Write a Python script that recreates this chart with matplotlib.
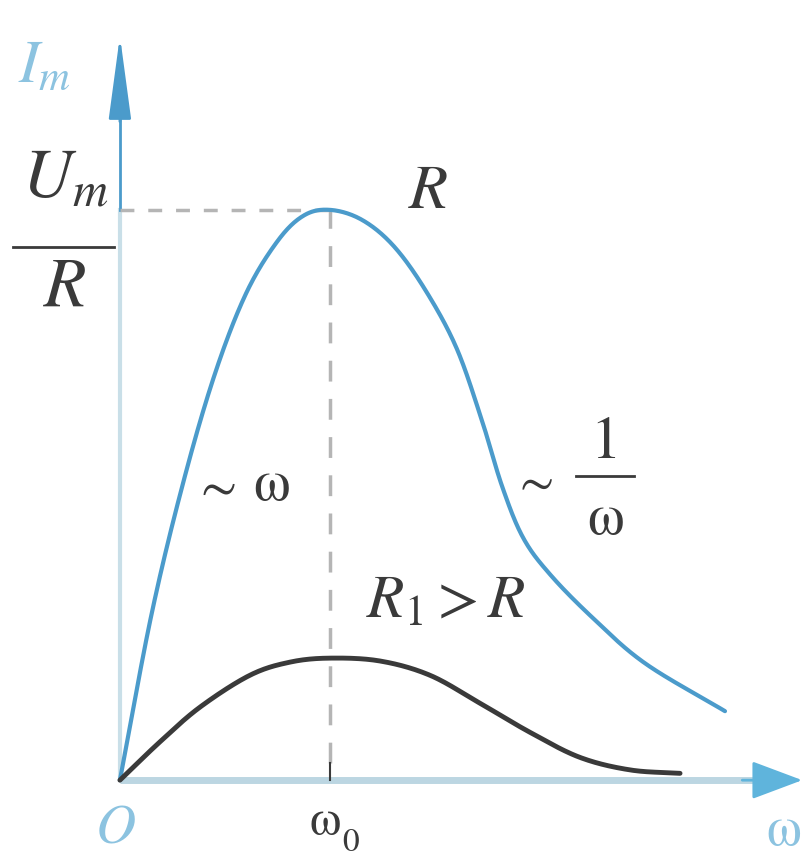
import numpy as np
import matplotlib
matplotlib.use("Agg")
import matplotlib.pyplot as plt
from matplotlib.patches import FancyArrowPatch

plt.rcParams['mathtext.fontset'] = 'stix'
plt.rcParams['font.family'] = ['STIXGeneral', 'DejaVu Serif']

# Resonance curves: omega in units of omega_0, current amplitude in units of U_m/R
omega_R = [0.0, 0.15, 0.30, 0.45, 0.60, 0.75, 0.875, 1.0, 1.15, 1.30, 1.45,
           1.60, 1.72, 1.82, 1.92, 2.05, 2.25, 2.50, 2.881]
current_R = [0.0, 0.29, 0.52, 0.71, 0.853, 0.945, 0.99, 1.0, 0.983, 0.938, 0.862,
             0.76, 0.635, 0.515, 0.425, 0.36, 0.285, 0.205, 0.121]

omega_R1 = [0.0, 0.19, 0.381, 0.619, 0.81, 1.0, 1.238, 1.476, 1.714, 1.952,
            2.19, 2.429, 2.667]
current_R1 = [0.0, 0.067, 0.128, 0.184, 0.207, 0.214, 0.209, 0.184, 0.135,
              0.084, 0.040, 0.018, 0.012]

OMEGA_0 = 1.0
PEAK = 1.0

BLUE = '#4b9bcb'
LIGHT_BLUE = '#8cc3e0'
DARK = '#3a3a3a'


def smooth(xs, ys, n=30):
    """Catmull-Rom spline through the given points."""
    p = np.column_stack([xs, ys]).astype(float)
    p = np.vstack([p[0] * 2 - p[1], p, p[-1] * 2 - p[-2]])
    out = []
    t = np.linspace(0, 1, n, endpoint=False)[:, None]
    for i in range(1, len(p) - 2):
        p0, p1, p2, p3 = p[i - 1], p[i], p[i + 1], p[i + 2]
        seg = 0.5 * ((2 * p1) + (-p0 + p2) * t + (2 * p0 - 5 * p1 + 4 * p2 - p3) * t ** 2
                     + (-p0 + 3 * p1 - 3 * p2 + p3) * t ** 3)
        out.append(seg)
    out.append(p[-2][None, :])
    a = np.vstack(out)
    return a[:, 0], a[:, 1]


fig = plt.figure(figsize=(8.05, 8.68), dpi=100)
ax = fig.add_axes([0, 0, 1, 1])
ax.set_xlim(-0.571, 3.262)
ax.set_ylim(-0.154, 1.368)
ax.axis('off')

# axes
ax.plot([0, 3.05], [0, 0], color='#bcd6e2', lw=5, solid_capstyle='butt', zorder=1)
ax.add_patch(FancyArrowPatch((2.95, 0), (3.262, 0), arrowstyle='-|>,head_length=1.6,head_width=0.6',
                             mutation_scale=20, color='#5fb4dc', lw=2, zorder=2))
ax.plot([0, 0], [0, 1.0], color='#c9dfe8', lw=3, zorder=1)
ax.plot([0, 0], [1.0, 1.2], color=BLUE, lw=2, zorder=1)
ax.add_patch(FancyArrowPatch((0, 1.15), (0, 1.31), arrowstyle='-|>,head_length=2.6,head_width=0.35',
                             mutation_scale=20, color=BLUE, lw=2, zorder=2))

# guide lines at resonance
ax.plot([0, OMEGA_0], [PEAK, PEAK], color='#b5b5b5', lw=2.5, ls=(0, (4, 4)), zorder=1)
ax.plot([OMEGA_0, OMEGA_0], [0.03, PEAK], color='#b5b5b5', lw=2.5, ls=(0, (6, 5)), zorder=1)
ax.plot([OMEGA_0, OMEGA_0], [0, 0.03], color=DARK, lw=1.5, zorder=3)

# curves
xs, ys = smooth(omega_R, current_R)
ax.plot(xs, ys, color=BLUE, lw=3, zorder=4, solid_capstyle='round')
xs, ys = smooth(omega_R1, current_R1)
ax.plot(xs, ys, color=DARK, lw=3.5, zorder=4, solid_capstyle='round')

# labels
ax.text(-0.36, 1.25, r'$I_m$', color=LIGHT_BLUE, fontsize=44, ha='center', va='center')
ax.text(-0.26, 1.05, r'$U_m$', color=DARK, fontsize=50, ha='center', va='center')
ax.plot([-0.51, -0.03], [0.935, 0.935], color=DARK, lw=2)
ax.text(-0.26, 0.86, r'$R$', color=DARK, fontsize=50, ha='center', va='center')
ax.text(1.467, 1.03, r'$R$', color=DARK, fontsize=46, ha='center', va='center')
ax.text(0.45, 0.51, r'$\sim$', color=DARK, fontsize=38, ha='center', va='center')
ax.text(0.72, 0.515, 'ω', color=DARK, fontsize=42, ha='center', va='center')
ax.text(1.965, 0.52, r'$\sim$', color=DARK, fontsize=36, ha='center', va='center')
ax.text(2.31, 0.59, '1', color=DARK, fontsize=44, ha='center', va='center')
ax.plot([2.17, 2.45], [0.533, 0.533], color=DARK, lw=2)
ax.text(2.31, 0.455, 'ω', color=DARK, fontsize=42, ha='center', va='center')
ax.text(1.55, 0.31, r'$R_1>R$', color=DARK, fontsize=44, ha='center', va='center')
ax.text(-0.02, -0.085, r'$O$', color=LIGHT_BLUE, fontsize=40, ha='center', va='center')
ax.text(0.975, -0.075, 'ω', color=DARK, fontsize=36, ha='center', va='center')
ax.text(1.10, -0.11, '0', color=DARK, fontsize=24, ha='center', va='center')
ax.text(3.16, -0.09, 'ω', color=LIGHT_BLUE, fontsize=40, ha='center', va='center')

fig.savefig('out.png', dpi=100)
